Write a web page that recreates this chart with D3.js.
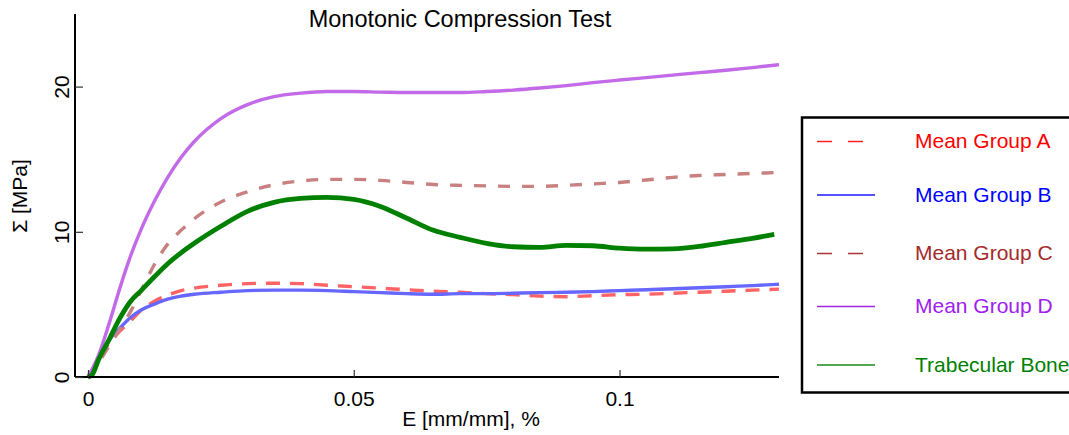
<!DOCTYPE html>
<html>
<head>
<meta charset="utf-8">
<script src="https://cdn.jsdelivr.net/npm/d3@7"></script>
<style>
  html, body { margin: 0; padding: 0; background: #fff; }
  svg { display: block; font-family: "Liberation Sans", Arial, sans-serif; }
</style>
</head>
<body>
<svg id="chart" width="1069" height="435"></svg>
<script>
// Strain samples (mm/mm) shared by the four mean curves
const strain = [0, 0.002, 0.004, 0.006, 0.008, 0.01, 0.0125, 0.015, 0.0175, 0.02,
  0.025, 0.03, 0.035, 0.04, 0.045, 0.05, 0.055, 0.06, 0.065, 0.07, 0.075, 0.08,
  0.085, 0.09, 0.095, 0.1, 0.105, 0.11, 0.115, 0.12, 0.125, 0.13];

// Mean stress curves (MPa)
const groupA = [0, 1.17, 2.34, 3.16, 3.85, 4.60, 5.22, 5.64, 5.95, 6.12, 6.32, 6.43,
  6.46, 6.43, 6.32, 6.22, 6.12, 6.01, 5.91, 5.84, 5.74, 5.67, 5.57, 5.53, 5.60,
  5.67, 5.70, 5.77, 5.84, 5.91, 5.98, 6.05];
const groupB = [0, 1.17, 2.54, 3.37, 4.10, 4.62, 5.02, 5.36, 5.57, 5.70, 5.84, 5.95,
  5.98, 5.98, 5.95, 5.88, 5.81, 5.74, 5.70, 5.74, 5.74, 5.77, 5.81, 5.84, 5.88,
  5.95, 6.01, 6.08, 6.15, 6.22, 6.29, 6.39];
const groupC = [0, 1.0, 2.15, 3.28, 4.5, 5.95, 7.75, 9.15, 10.1, 10.9, 12.05, 12.75,
  13.24, 13.5, 13.61, 13.61, 13.54, 13.40, 13.26, 13.20, 13.16, 13.13, 13.13, 13.20,
  13.30, 13.40, 13.57, 13.75, 13.88, 13.95, 14.02, 14.09];
const groupD = [0, 1.51, 3.71, 6.12, 8.32, 10.17, 12.10, 13.75, 15.12, 16.22, 17.80, 18.76,
  19.31, 19.55, 19.66, 19.66, 19.62, 19.59, 19.59, 19.59, 19.66, 19.76, 19.90, 20.07,
  20.27, 20.45, 20.62, 20.79, 20.96, 21.13, 21.31, 21.51];

// Trabecular bone specimen
const boneStrain = [0, 0.00075, 0.002, 0.004, 0.006, 0.008, 0.01, 0.0125, 0.015, 0.0175,
  0.02, 0.025, 0.03, 0.035, 0.04, 0.045, 0.05, 0.055, 0.06, 0.065, 0.07, 0.075, 0.08,
  0.085, 0.09, 0.095, 0.1, 0.105, 0.11, 0.115, 0.12, 0.125, 0.1291];
const boneStress = [0, 0.14, 1.2, 2.6, 4.05, 5.2, 5.95, 6.9, 7.8, 8.55, 9.21, 10.38,
  11.41, 12.03, 12.30, 12.37, 12.23, 11.75, 10.93, 10.10, 9.62, 9.21, 8.97, 8.93, 9.07,
  9.04, 8.87, 8.80, 8.83, 9.00, 9.28, 9.55, 9.83];

const xTicks = [0, 0.05, 0.1];
const yTicks = [0, 10, 20];

const seriesNames = ["Mean Group A", "Mean Group B", "Mean Group C", "Mean Group D", "Trabecular Bone"];

const series = [
  { name: seriesNames[0], x: strain, y: groupA, line: "#ff6363", key: "#ff2020", text: "#ff0000", width: 3.4, dash: "14,10", keyDash: "15,16" },
  { name: seriesNames[1], x: strain, y: groupB, line: "#6767ff", key: "#1a1aff", text: "#0000ff", width: 3.4, dash: null, keyDash: null },
  { name: seriesNames[2], x: strain, y: groupC, line: "#c98080", key: "#a83434", text: "#a52a2a", width: 3.4, dash: "12,12", keyDash: "15,16" },
  { name: seriesNames[3], x: strain, y: groupD, line: "#c26ae8", key: "#a126e0", text: "#a020f0", width: 3.4, dash: null, keyDash: null },
  { name: seriesNames[4], x: boneStrain, y: boneStress, line: "#008000", key: "#1a8c1a", text: "#008000", width: 4.8, dash: null, keyDash: null }
];

const svg = d3.select("#chart");
const font = 21;

const x = d3.scaleLinear().domain([-0.00244, 0.13]).range([75, 779]);
const y = d3.scaleLinear().domain([0, 25]).range([377, 14]);

// Curves
const line = d3.line().curve(d3.curveMonotoneX);
series.forEach(s => {
  const pts = s.x.map((v, i) => [x(v), y(s.y[i])]);
  svg.append("path")
    .attr("d", line(pts))
    .attr("fill", "none")
    .attr("stroke", s.line)
    .attr("stroke-width", s.width)
    .attr("stroke-linejoin", "round")
    .attr("stroke-dasharray", s.dash);
});

// Axes
const xAxis = d3.axisBottom(x).tickValues(xTicks).tickFormat(d => d === 0 ? "0" : String(d))
  .tickSizeInner(-7).tickSizeOuter(0).tickPadding(14);
const gx = svg.append("g").attr("transform", "translate(0,377)").call(xAxis);
gx.select(".domain").attr("d", `M75,0H779`).attr("stroke", "#000").attr("stroke-width", 2);
gx.selectAll(".tick line").attr("stroke", "#333").attr("stroke-width", 1.2);
gx.selectAll(".tick text").attr("font-size", font).attr("fill", "#000")
  .attr("font-family", "Liberation Sans, Arial, sans-serif");

const yAxis = d3.axisLeft(y).tickValues(yTicks).tickFormat(d3.format("d"))
  .tickSizeInner(-8).tickSizeOuter(0).tickPadding(0);
const gy = svg.append("g").attr("transform", "translate(75,0)").call(yAxis);
gy.select(".domain").attr("d", `M0,14V377`).attr("stroke", "#000").attr("stroke-width", 2);
gy.selectAll(".tick line").attr("stroke", "#333").attr("stroke-width", 1.2);
gy.selectAll(".tick text")
  .attr("font-size", font).attr("fill", "#000")
  .attr("font-family", "Liberation Sans, Arial, sans-serif")
  .attr("x", null).attr("dy", null)
  .attr("text-anchor", "middle")
  .attr("transform", "translate(-6,0) rotate(-90)")
  .attr("dominant-baseline", "auto")
  .attr("y", 0);

// Title and axis labels
svg.append("text").attr("x", 460).attr("y", 27).attr("text-anchor", "middle")
  .attr("font-size", 23.5).attr("fill", "#000").text("Monotonic Compression Test");
svg.append("text").attr("x", 471).attr("y", 426).attr("text-anchor", "middle")
  .attr("font-size", font).attr("fill", "#000").text("E [mm/mm], %");
svg.append("text").attr("transform", "translate(27,196) rotate(-90)").attr("text-anchor", "middle")
  .attr("font-size", font).attr("fill", "#000").text("Σ [MPa]");

// Legend
const legend = svg.append("g");
legend.append("rect").attr("x", 802).attr("y", 117.5).attr("width", 300).attr("height", 275)
  .attr("fill", "#fff").attr("stroke", "#000").attr("stroke-width", 2.5);
const keyY = [141.5, 195, 253.5, 306.5, 365];
series.forEach((s, i) => {
  legend.append("line").attr("x1", 817).attr("x2", 875).attr("y1", keyY[i]).attr("y2", keyY[i])
    .attr("stroke", s.key).attr("stroke-width", 1.6).attr("stroke-dasharray", s.keyDash);
  legend.append("text").attr("x", 915).attr("y", keyY[i] - 0.5).attr("dy", "0.35em")
    .attr("font-size", font).attr("fill", s.text).text(s.name);
});
</script>
</body>
</html>
